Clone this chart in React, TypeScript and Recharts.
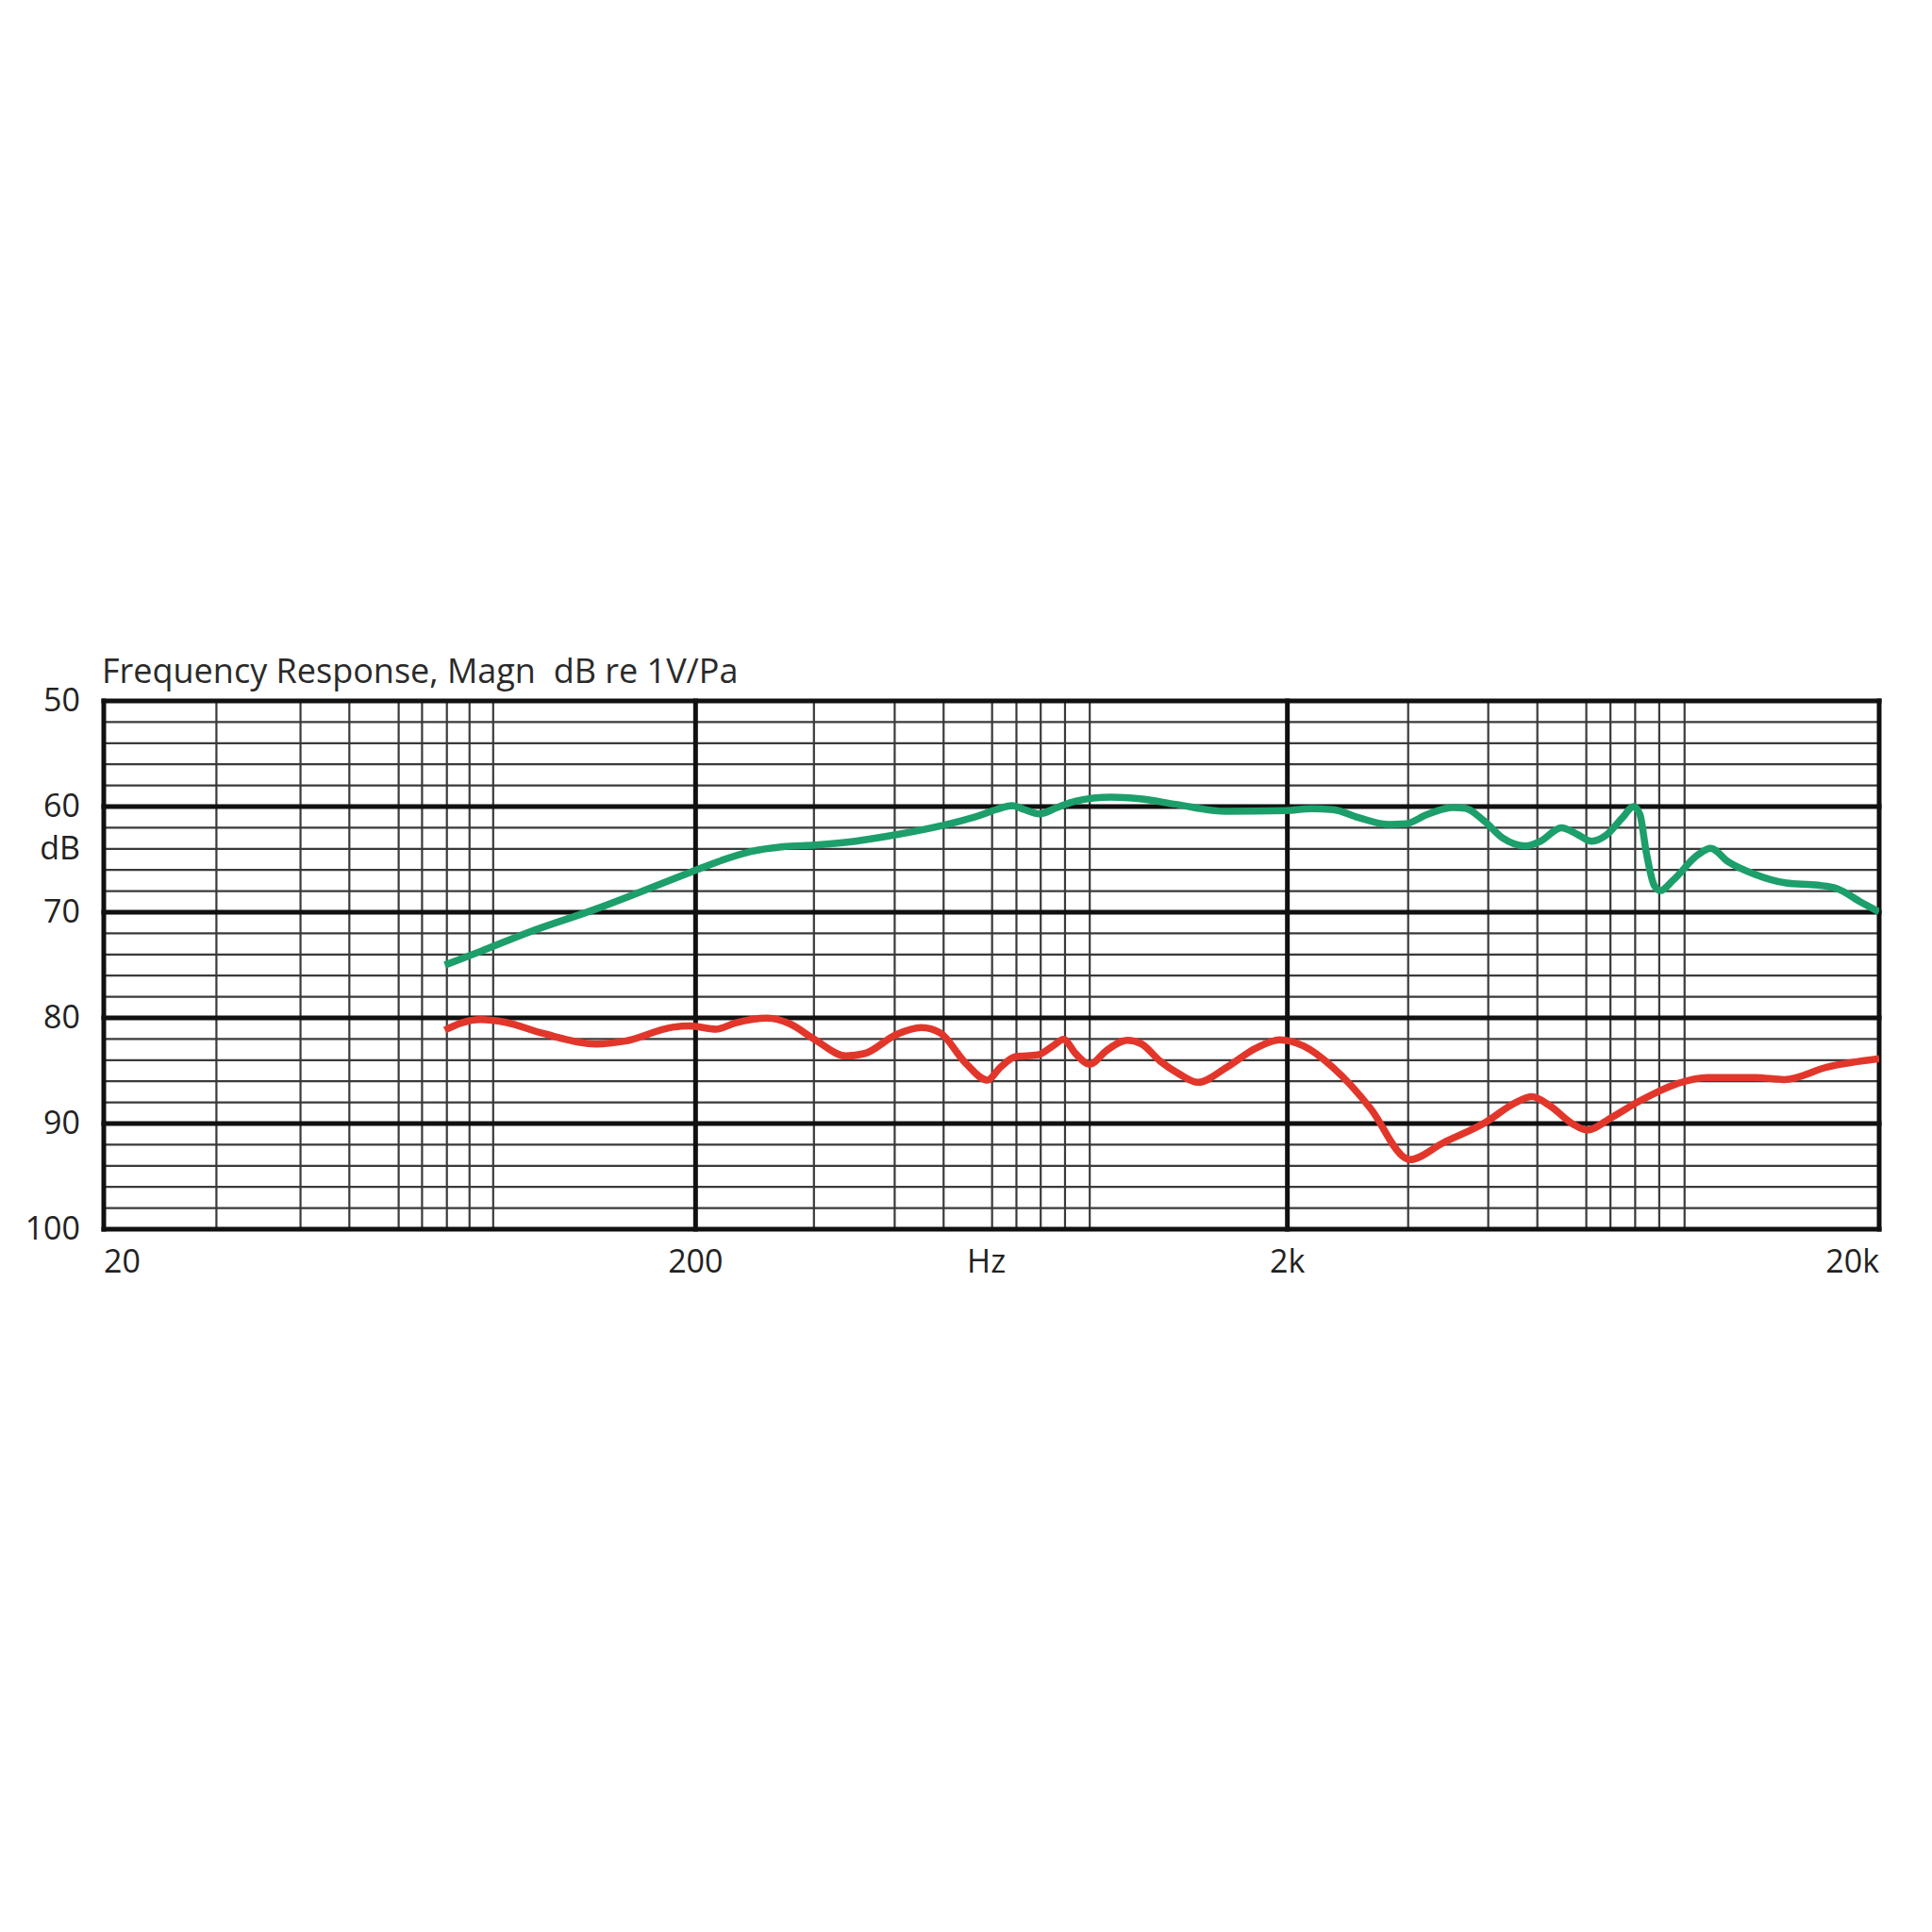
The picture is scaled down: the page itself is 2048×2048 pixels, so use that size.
import { LineChart, Line, XAxis, YAxis, ReferenceLine } from 'recharts';

// Log-frequency paper: decade lines and the thin lines inside each decade (Hz)
const decadeLines = [20, 200, 2000, 20000];
const minorFreqLines = [
  31, 43, 52, 63, 69, 76, 83, 91,
  317, 434, 525, 634, 697, 766, 842, 927,
  3200, 4370, 5290, 6400, 7030, 7740, 8500, 9380,
];
const majorDbLines = [50, 60, 70, 80, 90, 100];
const minorDbLines = [52, 54, 56, 58, 62, 64, 66, 68, 72, 74, 76, 78, 82, 84, 86, 88, 92, 94, 96, 98];

const freqTicks = [20, 200, 620, 2000, 20000];
const freqTickLabels = ['20', '200', 'Hz', '2k', '20k'];
const dbTicks = [50, 60, 64, 70, 80, 90, 100];
const dbTickLabels = ['50', '60', 'dB', '70', '80', '90', '100'];

// green trace
const greenFreq = [
  75.4, 86.7, 104.5, 135.7, 195.4, 218.6, 248, 281.4, 319.2, 372.4, 434.4, 521.6, 600, 643.6,
  685.4, 719.6, 761.2, 816.6, 876, 1008, 1127, 1297, 1574, 1990, 2194, 2389, 2637, 2977, 3169,
  3449, 3806, 3993, 4297, 4624, 5052, 5356, 5806, 6202, 6531, 6924, 7370, 7694, 7884, 8080,
  8332, 8538, 8964, 9888, 10382, 11106, 12320, 13926, 15738, 16940, 18676, 19982,
];
const greenDb = [
  75.0, 73.7, 71.9, 69.7, 66.25, 65.2, 64.26, 63.8, 63.63, 63.28, 62.68, 61.79, 60.89, 60.29,
  59.91, 60.29, 60.69, 60.09, 59.49, 59.11, 59.26, 59.79, 60.45, 60.38, 60.21, 60.29, 61.04,
  61.7, 61.63, 60.74, 60.09, 60.15, 61.34, 62.97, 63.72, 63.28, 62.0, 62.68, 63.28, 62.68,
  61.04, 60.0, 60.74, 64.31, 67.44, 67.95, 66.99, 64.55, 63.96, 65.21, 66.4, 67.23, 67.44,
  67.74, 69.08, 69.97,
];

// red trace
const redFreq = [
  75.4, 80.4, 86.7, 95.2, 110.5, 135.7, 151.9, 183, 195.4, 216.6, 233.4, 264.4, 288.1, 317.6,
  358.9, 386.4, 436.6, 481.5, 518.4, 571.5, 622.5, 653.8, 695, 757, 805, 836.8, 877, 926.6,
  990.8, 1073, 1134, 1220, 1312, 1413, 1581, 1769, 1942, 2132, 2385, 2770, 3157, 3216, 3666,
  4337, 4850, 5181, 5529, 6072, 6420, 7050, 7890, 9160, 10248, 12352, 13820, 16350, 20000,
];
const redDb = [
  81.16, 80.48, 80.16, 80.4, 81.47, 82.47, 82.2, 80.88, 80.76, 81.07, 80.48, 80.03, 80.54,
  82.03, 83.6, 83.37, 81.58, 80.92, 81.43, 84.26, 85.89, 84.71, 83.66, 83.51, 82.62, 82.03,
  83.37, 84.4, 83.06, 82.12, 82.47, 84.11, 85.3, 86.1, 84.66, 82.87, 82.07, 82.67, 84.66,
  88.64, 93.23, 93.42, 91.83, 89.84, 88.04, 87.45, 88.24, 90.04, 90.63, 89.44, 87.84, 86.18,
  85.64, 85.64, 85.84, 84.66, 83.87,
];

const greenData = greenFreq.map((f, i) => ({ f, db: greenDb[i] }));
const redData = redFreq.map((f, i) => ({ f, db: redDb[i] }));

const FONT = '"Open Sans", "Noto Sans", sans-serif';
const TEXT = '#222';

function XTick({ x, y, index }: any) {
  const last = freqTicks.length - 1;
  const anchor = index === 0 ? 'start' : index === last ? 'end' : 'middle';
  return (
    <text x={x} y={y} dy={46} textAnchor={anchor} fontSize={34} fontFamily={FONT} fill={TEXT}>
      {freqTickLabels[index]}
    </text>
  );
}

function YTick({ x, y, index }: any) {
  return (
    <text x={x - 25} y={y} dy="0.33em" textAnchor="end" fontSize={34} fontFamily={FONT} fill={TEXT}>
      {dbTickLabels[index]}
    </text>
  );
}

export default function App() {
  return (
    <div style={{ position: 'relative', width: 2032, height: 1400 }}>
      <div
        style={{
          position: 'absolute',
          left: 100,
          top: 685,
          fontFamily: FONT,
          fontSize: 36,
          lineHeight: '36px',
          color: '#2a2a2a',
          whiteSpace: 'pre',
        }}
      >
        {'Frequency Response, Magn  dB re 1V/Pa'}
      </div>
      <LineChart width={2032} height={1400} margin={{ top: 735, right: 48, bottom: 45, left: 22 }}>
        <XAxis
          dataKey="f"
          type="number"
          scale="log"
          domain={[20, 20000]}
          allowDataOverflow
          ticks={freqTicks}
          interval={0}
          tick={<XTick />}
          tickLine={false}
          axisLine={false}
          tickSize={0}
          tickMargin={0}
          height={60}
        />
        <YAxis
          type="number"
          domain={[50, 100]}
          reversed
          allowDataOverflow
          ticks={dbTicks}
          interval={0}
          tick={<YTick />}
          tickLine={false}
          axisLine={false}
          tickSize={0}
          tickMargin={0}
          width={80}
        />
        {minorDbLines.map((v) => (
          <ReferenceLine key={'hd' + v} y={v} stroke="#3a3a3a" strokeWidth={2.2} />
        ))}
        {minorFreqLines.map((v) => (
          <ReferenceLine key={'vf' + v} x={v} stroke="#3a3a3a" strokeWidth={2.2} />
        ))}
        {majorDbLines.map((v) => (
          <ReferenceLine key={'HD' + v} y={v} stroke="#111" strokeWidth={5} strokeLinecap="square" />
        ))}
        {decadeLines.map((v) => (
          <ReferenceLine key={'VF' + v} x={v} stroke="#111" strokeWidth={5} strokeLinecap="square" />
        ))}
        <Line
          data={greenData}
          dataKey="db"
          type="monotone"
          stroke="#1c9f6a"
          strokeWidth={7.5}
          dot={false}
          activeDot={false}
          isAnimationActive={false}
        />
        <Line
          data={redData}
          dataKey="db"
          type="monotone"
          stroke="#e2362b"
          strokeWidth={7.5}
          dot={false}
          activeDot={false}
          isAnimationActive={false}
        />
      </LineChart>
    </div>
  );
}
